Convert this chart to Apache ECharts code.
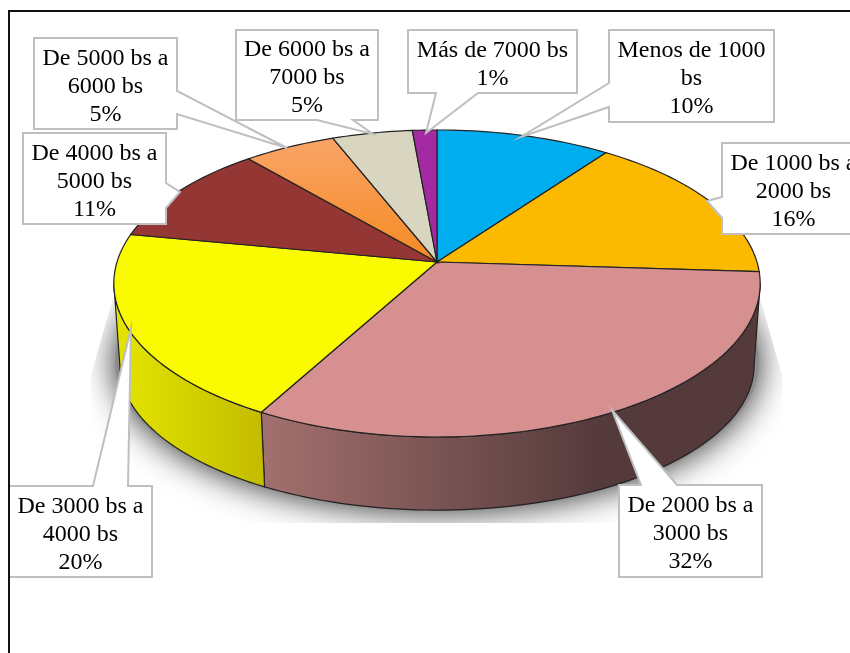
<!DOCTYPE html>
<html>
<head>
<meta charset="utf-8">
<style>html,body{margin:0;padding:0;background:#fff;overflow:hidden}#c{width:850px;height:653px}</style>
<script src="https://cdn.jsdelivr.net/npm/echarts@6/dist/echarts.min.js"></script>
</head>
<body>
<div id="c"></div>
<script>
// --- data ---
const categories = ['Menos de 1000\nbs','De 1000 bs a\n2000 bs','De 2000 bs a\n3000 bs','De 3000 bs a\n4000 bs','De 4000 bs a\n5000 bs','De 5000 bs a\n6000 bs','De 6000 bs a\n7000 bs','Más de 7000 bs'];
const values = [10, 16, 32, 20, 10.7, 5.3, 4.6, 1.4];
// --- styling ---
const topColors = ['#00aeef','#fbba00','#d69090','#fafa00','#943634',null,'#d8d6c0','#a32aa3'];
// --- callout layout: box x,y,w,h and pointer polygon corners ---
const calloutBoxes = [[609,30,165,92],[722,143,143,91],[619,485,143,92],[9,486,143,91],[23,133,143,91],[34,38,143,91],[236,30,142,90],[408,30,169,63]];
const calloutPaths = [
  [[609,30],[774,30],[774,122],[609,122],[609,107],[521,137],[609,83]],
  [[722,143],[865,143],[865,234],[722,234],[722,218],[707,201],[722,197]],
  [[619,485],[641,485],[612,410],[677,485],[762,485],[762,577],[619,577]],
  [[9,486],[93,486],[131,328],[128,486],[152,486],[152,577],[9,577]],
  [[23,133],[166,133],[166,183],[180,192],[166,208],[166,224],[23,224]],
  [[34,38],[177,38],[177,91],[287,148],[177,114],[177,129],[34,129]],
  [[236,30],[378,30],[378,120],[353,120],[373,134],[317,120],[236,120]],
  [[408,30],[577,30],[577,93],[478,93],[426,133],[436,93],[408,93]]
];
// --- perspective of the disc ---
const CX = 437, K = -0.14;
const TOP = {a:320, b:150.5, y0:262};
const LOW = {a:314, b:142, y0:345};
const WALL_FROM = 98, WALL_TO = 262;
const rad = d => d*Math.PI/180;
function rim(deg, p){
  const u = Math.sin(rad(deg)), v = -Math.cos(rad(deg)), w = 1 + K*v;
  return [CX + p.a*u/w, p.y0 + p.b*v/w];
}
function arc(from, to, p){
  const pts = [], n = Math.max(2, Math.ceil(Math.abs(to-from)/1.5));
  for (let i=0;i<=n;i++) pts.push(rim(from+(to-from)*i/n, p));
  return pts;
}
const total = values.reduce((s,v)=>s+v,0);
let acc = 0;
const sliceData = values.map((v,i)=>{ const s=acc; acc+=v; return [i, s/total*360, acc/total*360, v]; });
const G = echarts.graphic.LinearGradient;
const wallFill = {
  2: new G(264,0,600,0,[{offset:0,color:'#a2706e'},{offset:1,color:'#553a3b'}],true),
  3: new G(118,0,263,0,[{offset:0,color:'#e4e400'},{offset:1,color:'#c3bc00'}],true)
};
const orangeFill = new G(0,140,0,262,[{offset:0,color:'#f9a466'},{offset:1,color:'#f58a22'}],true);
const EDGE = '#222';

const chart = echarts.init(document.getElementById('c'));
chart.setOption({
  animation:false,
  backgroundColor:'#fff',
  graphic:[{type:'polyline',z:100,silent:true,shape:{points:[[9,653],[9,11],[850,11]]},style:{stroke:'#111',lineWidth:2,fill:null}}],
  series:[
    { // cast shadow
      type:'custom',coordinateSystem:'none',silent:true,z:1,data:[[0]],
      renderItem(){
        return {type:'ellipse',
          shape:{cx:437,cy:362,rx:322,ry:149},
          style:{fill:'#8c8c8c',shadowBlur:34,shadowColor:'rgba(0,0,0,0.85)'},
          clipPath:{type:'polygon',shape:{points:[[113,298],[91,375],[91,523],[782,523],[782,375],[760,298]]}}
        };
      }
    },
    { // side walls
      type:'custom',coordinateSystem:'none',silent:true,z:2,data:sliceData,
      renderItem(params,api){
        const i=api.value(0), a=Math.max(api.value(1),WALL_FROM), b=Math.min(api.value(2),WALL_TO);
        if(b<=a) return {type:'group',children:[]};
        return {type:'polygon',
          shape:{points:arc(a,b,TOP).concat(arc(b,a,LOW))},
          style:{fill:wallFill[i]||topColors[i],stroke:EDGE,lineWidth:1.2}};
      }
    },
    { // top faces
      type:'custom',coordinateSystem:'none',silent:true,z:3,data:sliceData,
      renderItem(params,api){
        const i=api.value(0);
        return {type:'polygon',
          shape:{points:[[CX,TOP.y0]].concat(arc(api.value(1),api.value(2),TOP))},
          style:{fill:topColors[i]||orangeFill,stroke:EDGE,lineWidth:1.2}};
      }
    },
    { // callouts
      type:'custom',coordinateSystem:'none',silent:true,z:4,data:sliceData,
      renderItem(params,api){
        const i=api.value(0), box=calloutBoxes[i];
        return {type:'group',children:[
          {type:'polygon',shape:{points:calloutPaths[i]},style:{fill:'#fff',stroke:'#bfbfbf',lineWidth:2}},
          {type:'text',z2:5,style:{
            x:box[0]+box[2]/2,y:box[1]+box[3]/2+3,
            text:categories[i]+'\n'+Math.round(api.value(3))+'%',
            align:'center',verticalAlign:'middle',
            font:'24px "Liberation Serif"',lineHeight:28,fill:'#000'}}
        ]};
      }
    }
  ]
});
</script>
</body>
</html>
